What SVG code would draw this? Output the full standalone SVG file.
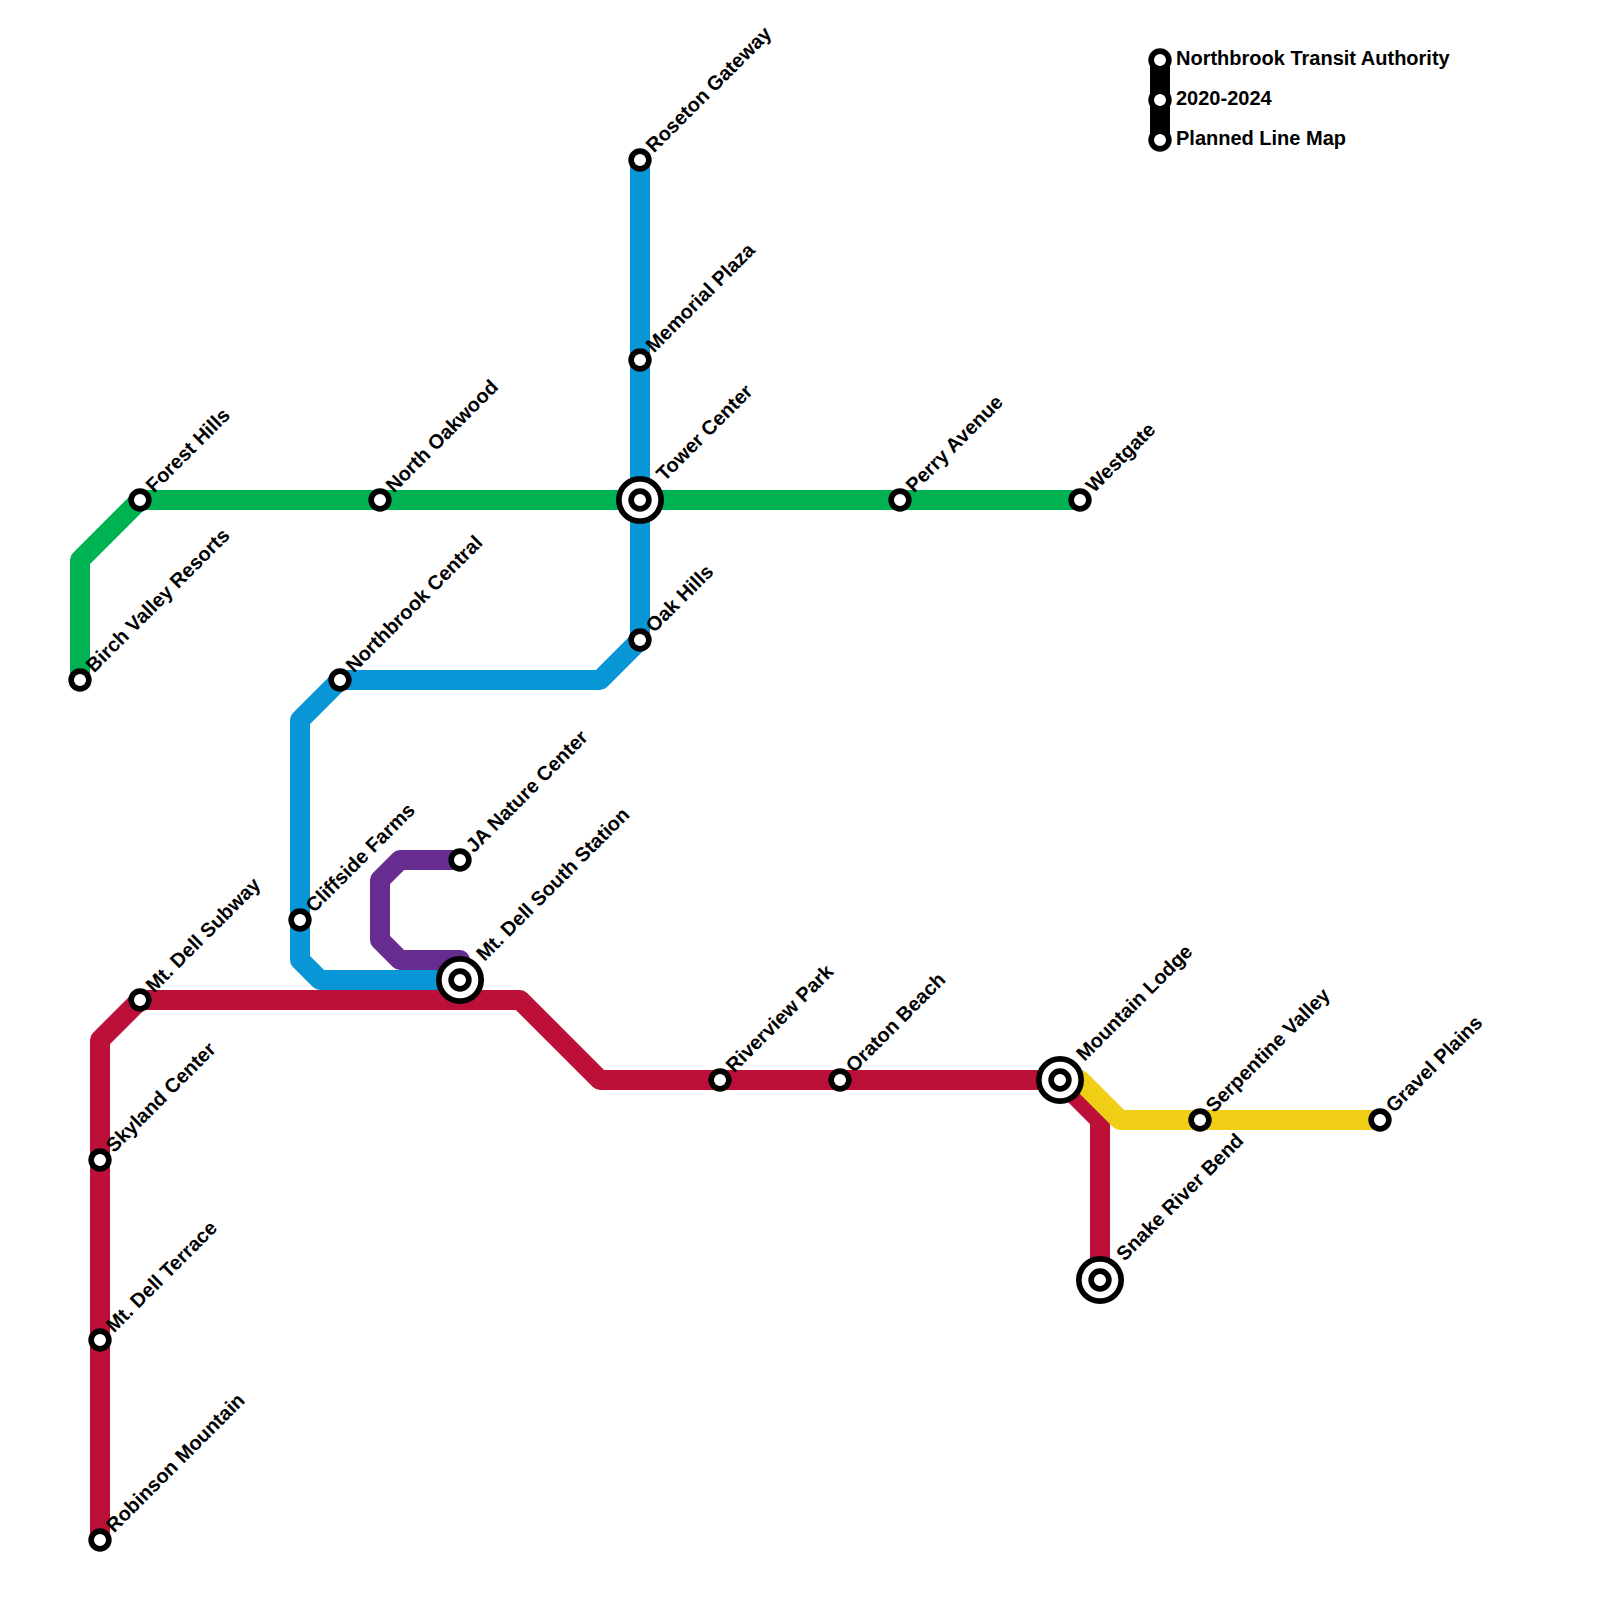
<svg xmlns="http://www.w3.org/2000/svg" width="1600" height="1600" viewBox="0 0 1600 1600">
<style>
.l{fill:none;stroke-width:20;stroke-linejoin:round;stroke-linecap:round}
.s{fill:#fff;stroke:#000;stroke-width:5.67}
.o{fill:#fff;stroke:#000;stroke-width:5.67}
text{font-family:"Liberation Sans",Arial,sans-serif;font-weight:700;font-size:20px;fill:#000}
</style>
<rect width="1600" height="1600" fill="#fff"/>
<g id="connectors">
<path class="l" stroke="#bd1038" d="M100 1540V1040L140 1000H520L600 1080H1060L1100 1120V1280"/>
<path class="l" stroke="#f0ce15" d="M1060 1080H1080L1120 1120H1380"/>
<path class="l" stroke="#0896d7" d="M640 160V640L600 680H340L300 720V960L320 980H460"/>
<path class="l" stroke="#00b251" d="M80 680V560L140 500H1080"/>
<path class="l" stroke="#662c90" d="M460 860H400L380 880V940L400 960H460"/>
<path class="l" stroke="#000" d="M1160 60V140"/>
</g>
<g id="forest-hills"><circle class="s" cx="140" cy="500" r="8.85"/><text transform="translate(154 493.5) rotate(-45)">Forest Hills</text></g>
<g id="birch-valley"><circle class="s" cx="80" cy="680" r="8.85"/><text transform="translate(94 673.5) rotate(-45)">Birch Valley Resorts</text></g>
<g id="north-oakwood"><circle class="s" cx="380" cy="500" r="8.85"/><text transform="translate(394 493.5) rotate(-45)">North Oakwood</text></g>
<g id="tower-center"><circle class="o" cx="640" cy="500" r="21.15"/><circle class="s" cx="640" cy="500" r="8.85"/><text transform="translate(664.5 482) rotate(-45)">Tower Center</text></g>
<g id="perry-avenue"><circle class="s" cx="900" cy="500" r="8.85"/><text transform="translate(914 493.5) rotate(-45)">Perry Avenue</text></g>
<g id="westgate"><circle class="s" cx="1080" cy="500" r="8.85"/><text transform="translate(1094 493.5) rotate(-45)">Westgate</text></g>
<g id="roseton-gateway"><circle class="s" cx="640" cy="160" r="8.85"/><text transform="translate(654 153.5) rotate(-45)">Roseton Gateway</text></g>
<g id="memorial-plaza"><circle class="s" cx="640" cy="360" r="8.85"/><text transform="translate(654 353.5) rotate(-45)">Memorial Plaza</text></g>
<g id="oak-hills"><circle class="s" cx="640" cy="640" r="8.85"/><text transform="translate(654 633.5) rotate(-45)">Oak Hills</text></g>
<g id="northbrook-central"><circle class="s" cx="340" cy="680" r="8.85"/><text transform="translate(354 673.5) rotate(-45)">Northbrook Central</text></g>
<g id="cliffside-farms"><circle class="s" cx="300" cy="920" r="8.85"/><text transform="translate(314 913.5) rotate(-45)">Cliffside Farms</text></g>
<g id="ja-nature-center"><circle class="s" cx="460" cy="860" r="8.85"/><text transform="translate(474 853.5) rotate(-45)">JA Nature Center</text></g>
<g id="mt-dell-south"><circle class="o" cx="460" cy="980" r="21.15"/><circle class="s" cx="460" cy="980" r="8.85"/><text transform="translate(484.5 962) rotate(-45)">Mt. Dell South Station</text></g>
<g id="mt-dell-subway"><circle class="s" cx="140" cy="1000" r="8.85"/><text transform="translate(154 993.5) rotate(-45)">Mt. Dell Subway</text></g>
<g id="skyland-center"><circle class="s" cx="100" cy="1160" r="8.85"/><text transform="translate(114 1153.5) rotate(-45)">Skyland Center</text></g>
<g id="mt-dell-terrace"><circle class="s" cx="100" cy="1340" r="8.85"/><text transform="translate(114 1333.5) rotate(-45)">Mt. Dell Terrace</text></g>
<g id="robinson-mountain"><circle class="s" cx="100" cy="1540" r="8.85"/><text transform="translate(114 1533.5) rotate(-45)">Robinson Mountain</text></g>
<g id="riverview-park"><circle class="s" cx="720" cy="1080" r="8.85"/><text transform="translate(734 1073.5) rotate(-45)">Riverview Park</text></g>
<g id="oraton-beach"><circle class="s" cx="840" cy="1080" r="8.85"/><text transform="translate(854 1073.5) rotate(-45)">Oraton Beach</text></g>
<g id="mountain-lodge"><circle class="o" cx="1060" cy="1080" r="21.15"/><circle class="s" cx="1060" cy="1080" r="8.85"/><text transform="translate(1084.5 1062) rotate(-45)">Mountain Lodge</text></g>
<g id="snake-river-bend"><circle class="o" cx="1100" cy="1280" r="21.15"/><circle class="s" cx="1100" cy="1280" r="8.85"/><text transform="translate(1124.5 1262) rotate(-45)">Snake River Bend</text></g>
<g id="serpentine-valley"><circle class="s" cx="1200" cy="1120" r="8.85"/><text transform="translate(1214 1113.5) rotate(-45)">Serpentine Valley</text></g>
<g id="gravel-plains"><circle class="s" cx="1380" cy="1120" r="8.85"/><text transform="translate(1394 1113.5) rotate(-45)">Gravel Plains</text></g>
<g id="legend-1"><circle class="s" cx="1160" cy="60" r="8.85"/><text x="1176" y="65">Northbrook Transit Authority</text></g>
<g id="legend-2"><circle class="s" cx="1160" cy="100" r="8.85"/><text x="1176" y="105">2020-2024</text></g>
<g id="legend-3"><circle class="s" cx="1160" cy="140" r="8.85"/><text x="1176" y="145">Planned Line Map</text></g>
</svg>
